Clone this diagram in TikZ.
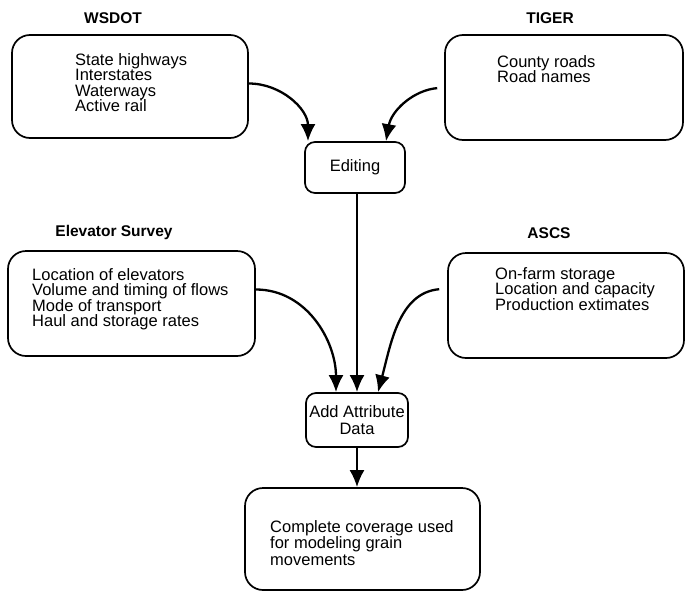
\documentclass[tikz,border=0pt]{standalone}
\usepackage{fontspec}
\setmainfont{Liberation Sans}
\usetikzlibrary{arrows.meta}

\tikzset{
  srcbox/.style={draw,line width=1.7pt,rounded corners=18pt,inner sep=0pt},
  stepbox/.style={draw,line width=1.7pt,rounded corners=10pt,inner sep=1pt,
    align=center,font=\fontsize{16.5}{17}\selectfont},
  srctitle/.style={font=\fontsize{15.5}{16}\selectfont\bfseries},
  itemlist/.style={anchor=north west,inner sep=0pt,align=left,
    font=\fontsize{16.5}{15.5}\selectfont},
  flow/.style={line width=2.3pt,-{Latex[length=17pt,width=15pt]}}
}

\begin{document}
\begin{tikzpicture}[x=1pt,y=-1pt]
\useasboundingbox (0,0) rectangle (685,592);

% 上方:两个数据源
\node[srctitle] (wsdottitle) at (113,18) {WSDOT};
\node[srcbox,minimum width=236pt,minimum height=103pt] (wsdot) at (130,86.5) {};
\node[itemlist] (wsdotlist) at (75,53) {State highways\\Interstates\\Waterways\\Active rail};

\node[srctitle] (tigertitle) at (550,18) {TIGER};
\node[srcbox,minimum width=238pt,minimum height=105pt] (tiger) at (564,87.5) {};
\node[itemlist] (tigerlist) at (497,55) {County roads\\Road names};

\node[stepbox,minimum width=100pt,minimum height=51pt] (editing) at (355,167.5) {Editing};

% 中间:属性数据来源
\node[srctitle] (elevtitle) at (114,232) {Elevator Survey};
\node[srcbox,minimum width=247pt,minimum height=105pt] (elev) at (131.5,303.5) {};
\node[itemlist] (elevlist) at (32,268) {Location of elevators\\Volume and timing of flows\\Mode of transport\\Haul and storage rates};

\node[srctitle] (ascstitle) at (549,233) {ASCS};
\node[srcbox,minimum width=236pt,minimum height=105pt] (ascs) at (566,305.5) {};
\node[itemlist] (ascslist) at (495,267) {On-farm storage\\Location and capacity\\Production extimates};

\node[stepbox,minimum width=102pt,minimum height=54pt] (attr) at (357,420) {Add Attribute\\Data};

% 下方:结果
\node[srcbox,minimum width=235pt,minimum height=102pt] (complete) at (362.5,539) {};
\node[itemlist,font=\fontsize{16.5}{16.5}\selectfont] (completelist) at (270,520) {Complete coverage used\\for modeling grain\\movements};

% 箭头
\draw[flow] ([yshift=3pt]wsdot.east) to[out=0,in=90] ([xshift=-47pt]editing.north);
\draw[flow,shorten <=7pt] (tiger.west) to[out=185,in=80] ([xshift=31pt]editing.north);
\draw[flow] (editing.south -| attr.north) -- (attr.north);
\draw[flow] ([yshift=14pt]elev.east) to[out=0,in=90] ([xshift=-21pt]attr.north);
\draw[flow,shorten <=8pt] ([yshift=17pt]ascs.west) to[out=185,in=75] ([xshift=21pt]attr.north);
\draw[flow] (attr.south) -- (attr.south |- complete.north);
\end{tikzpicture}
\end{document}
